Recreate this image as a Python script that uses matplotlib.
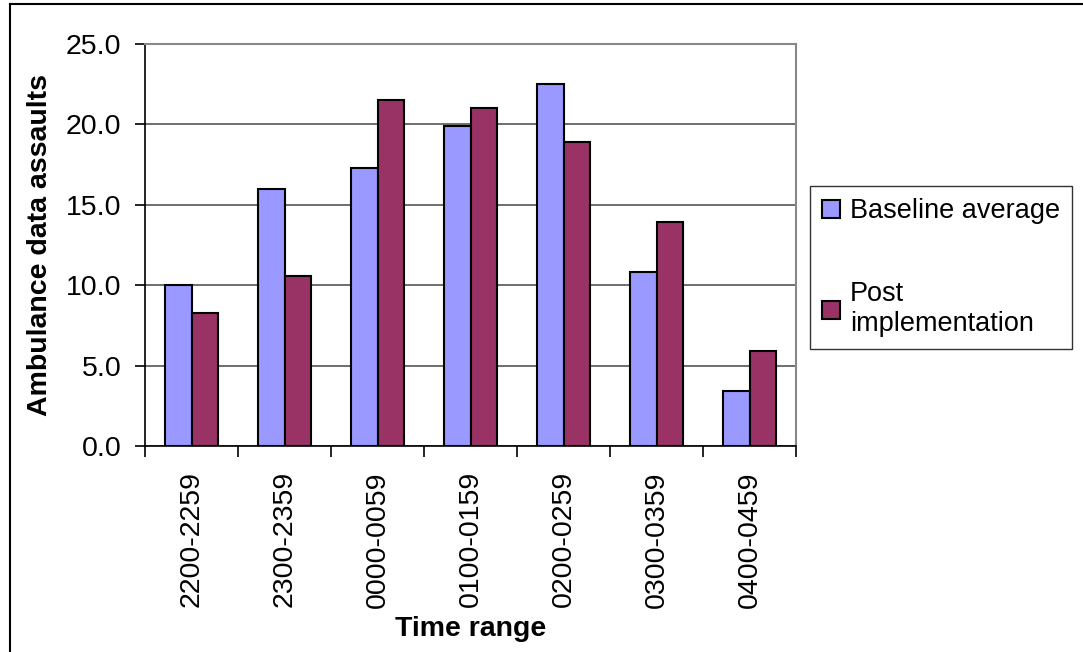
import numpy as np
import matplotlib.pyplot as plt
from matplotlib.lines import Line2D

categories = ['2200-2259', '2300-2359', '0000-0059', '0100-0159',
              '0200-0259', '0300-0359', '0400-0459']
baseline = [10.0, 16.0, 17.3, 19.9, 22.5, 10.8, 3.4]
post = [8.3, 10.6, 21.5, 21.0, 18.9, 13.9, 5.9]
yticks = [0, 5, 10, 15, 20, 25]

plt.rcParams['font.family'] = ['Liberation Sans', 'DejaVu Sans']
FS = 20.5

fig = plt.figure(figsize=(10.83, 6.52), dpi=100)
ax = fig.add_axes([145 / 1083, 206 / 652, 651 / 1083, 402 / 652])

x = np.arange(len(categories))
w = 0.28
ax.bar(x - w / 2, baseline, w, color='#9999FF', edgecolor='black',
       linewidth=1.5, label='Baseline average', zorder=3)
ax.bar(x + w / 2, post, w, color='#993366', edgecolor='black',
       linewidth=1.5, label='Post\nimplementation', zorder=3)

ax.set_xlim(-0.5, len(categories) - 0.5)
ax.set_ylim(0, 25)
ax.set_yticks(yticks)
ax.set_yticklabels([f'{v:.1f}' for v in yticks], fontsize=FS)
ax.yaxis.grid(True, color='#555555', linewidth=1.2, zorder=0)

# category labels at centres, tick marks at boundaries
ax.set_xticks(x)
ax.set_xticklabels(categories, rotation=90, fontsize=FS)
ax.tick_params(axis='x', length=0, pad=18)
ax.set_xticks(np.arange(len(categories) + 1) - 0.5, minor=True)
ax.tick_params(axis='x', which='minor', length=8, width=1.2, direction='out')
ax.tick_params(axis='y', length=7, width=1.2, direction='out', pad=10)

for s in ['left', 'bottom']:
    ax.spines[s].set_color('black')
    ax.spines[s].set_linewidth(1.2)
for s in ['top', 'right']:
    ax.spines[s].set_color('#888888')
    ax.spines[s].set_linewidth(1.5)

ax.set_ylabel('Ambulance data assaults', fontsize=FS, fontweight='bold', labelpad=9)
ax.set_xlabel('Time range', fontsize=FS, fontweight='bold', labelpad=6)

leg = fig.legend(loc='upper left', bbox_to_anchor=(810 / 1083, 1 - 186 / 652),
                 fontsize=19.5, frameon=True, fancybox=False, edgecolor='black',
                 handlelength=0.65, handleheight=0.65, handletextpad=0.38,
                 labelspacing=2.1, borderpad=0.45, borderaxespad=0)
leg.get_frame().set_linewidth(1.0)

# outer frame (left and top edges)
fig.add_artist(Line2D([10 / 1083, 10 / 1083], [0, 1 - 4 / 652],
                      transform=fig.transFigure, color='black', linewidth=1.5))
fig.add_artist(Line2D([10 / 1083, 1], [1 - 4 / 652, 1 - 4 / 652],
                      transform=fig.transFigure, color='black', linewidth=1.5))

plt.savefig('out.png', dpi=100)
plt.close()
